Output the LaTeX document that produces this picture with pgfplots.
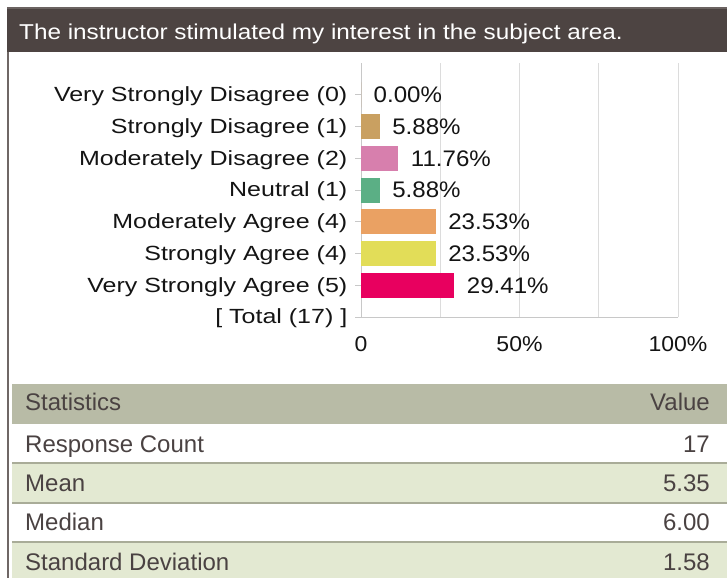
\documentclass[border=0pt]{standalone}
\usepackage{pgfplots}
\pgfplotsset{compat=1.18}
\usepackage{fontspec}
\setmainfont{Liberation Sans}
\newfontfamily\titlefont[FakeStretch=1.13]{Liberation Sans}
\newfontfamily\catfont[FakeStretch=1.22]{Liberation Sans}
\newfontfamily\valfont[FakeStretch=1.07]{Liberation Sans}
\definecolor{titlebg}{HTML}{4D4442}
\definecolor{titletop}{HTML}{6B6361}
\definecolor{borderc}{HTML}{6F6765}
\definecolor{headbg}{HTML}{B8BBA6}
\definecolor{rowgreen}{HTML}{E3E9D2}
\definecolor{rulec}{HTML}{A9AC98}
\definecolor{tabtext}{HTML}{4A4242}
\definecolor{gridc}{HTML}{DCDCDC}
\definecolor{axisc}{HTML}{C8C8C8}
\definecolor{cA}{HTML}{C9A061}
\definecolor{cB}{HTML}{D77FAD}
\definecolor{cC}{HTML}{5BAF85}
\definecolor{cD}{HTML}{EAA163}
\definecolor{cE}{HTML}{E2DD58}
\definecolor{cF}{HTML}{E8005F}
\begin{document}
\begin{tikzpicture}[x=1pt,y=1pt]
\useasboundingbox (0,0) rectangle (727,-578);
\clip (0,0) rectangle (727,-578);
% title band
\fill[titletop] (7,-7) rectangle (727,-9);
\fill[titlebg] (7,-9) rectangle (727,-52);
\node[anchor=base west, inner sep=0pt, text=white, font=\titlefont\fontsize{21.5}{26}\selectfont] at (19,-39.5) {The instructor stimulated my interest in the subject area.};
% left border
\fill[borderc] (7,-52) rectangle (9,-578);
% statistics table
\fill[headbg] (12,-384) rectangle (727,-424);
\fill[rowgreen] (12,-464) rectangle (727,-502);
\fill[rowgreen] (12,-543) rectangle (727,-578);
\fill[rulec] (12,-462) rectangle (727,-464);
\fill[rulec] (12,-502) rectangle (727,-504);
\fill[rulec] (12,-541) rectangle (727,-543);
\begin{scope}[every node/.style={inner sep=0pt, text=tabtext, font=\fontsize{24}{28}\selectfont}]
\node[anchor=base west] at (25,-410) {Statistics};
\node[anchor=base east] at (710,-410) {Value};
\node[anchor=base west] at (25,-452) {Response Count};
\node[anchor=base east] at (710,-452) {17};
\node[anchor=base west] at (25,-491) {Mean};
\node[anchor=base east] at (710,-491) {5.35};
\node[anchor=base west] at (25,-530.5) {Median};
\node[anchor=base east] at (710,-530.5) {6.00};
\node[anchor=base west] at (25,-570) {Standard Deviation};
\node[anchor=base east] at (710,-570) {1.58};
\end{scope}
% chart
\begin{axis}[
  at={(361pt,-317pt)}, anchor=south west,
  scale only axis, width=317pt, height=254pt,
  xmin=0, xmax=100, ymin=-7, ymax=1,
  axis x line*=bottom, axis y line*=left,
  axis line style={draw=axisc, line width=0.8pt},
  xtick={0,25,50,75,100}, xticklabels={0,,50\%,,100\%},
  xmajorgrids, grid style={draw=gridc, line width=0.8pt},
  ytick={-7,-6,-5,-4,-3,-2,-1,0},
  yticklabels={{[ Total (17) ]},{Very Strongly Agree (5)},{Strongly Agree (4)},{Moderately Agree (4)},{Neutral (1)},{Moderately Disagree (2)},{Strongly Disagree (1)},{Very Strongly Disagree (0)}},
  tick align=outside, major tick length=6pt,
  ytick style={draw=axisc, line width=0.8pt},
  xtick style={draw=none},
  yticklabel style={font=\catfont\fontsize{20.5}{24}\selectfont, text=black!92, inner sep=0pt, anchor=east, xshift=-7.5pt, yshift=-1.5pt},
  xticklabel style={font=\valfont\fontsize{21.5}{26}\selectfont, text=black!92, inner sep=0pt, anchor=north, yshift=-13pt},
  xbar, bar width=25pt, bar shift=0pt,
  point meta=x,
  nodes near coords={\pgfmathprintnumber[fixed,fixed zerofill,precision=2,assume math mode=true]{\pgfplotspointmeta}\%},
  every node near coord/.append style={anchor=west, inner sep=0pt, xshift=12.5pt, text=black!92, font=\valfont\fontsize{22.5}{27}\selectfont},
  clip=false,
]
\addplot[draw=none, fill=cA] coordinates {(0,0)};
\addplot[draw=none, fill=cA] coordinates {(5.88,-1)};
\addplot[draw=none, fill=cB] coordinates {(11.76,-2)};
\addplot[draw=none, fill=cC] coordinates {(5.88,-3)};
\addplot[draw=none, fill=cD] coordinates {(23.53,-4)};
\addplot[draw=none, fill=cE] coordinates {(23.53,-5)};
\addplot[draw=none, fill=cF] coordinates {(29.41,-6)};
\end{axis}
\end{tikzpicture}
\end{document}
